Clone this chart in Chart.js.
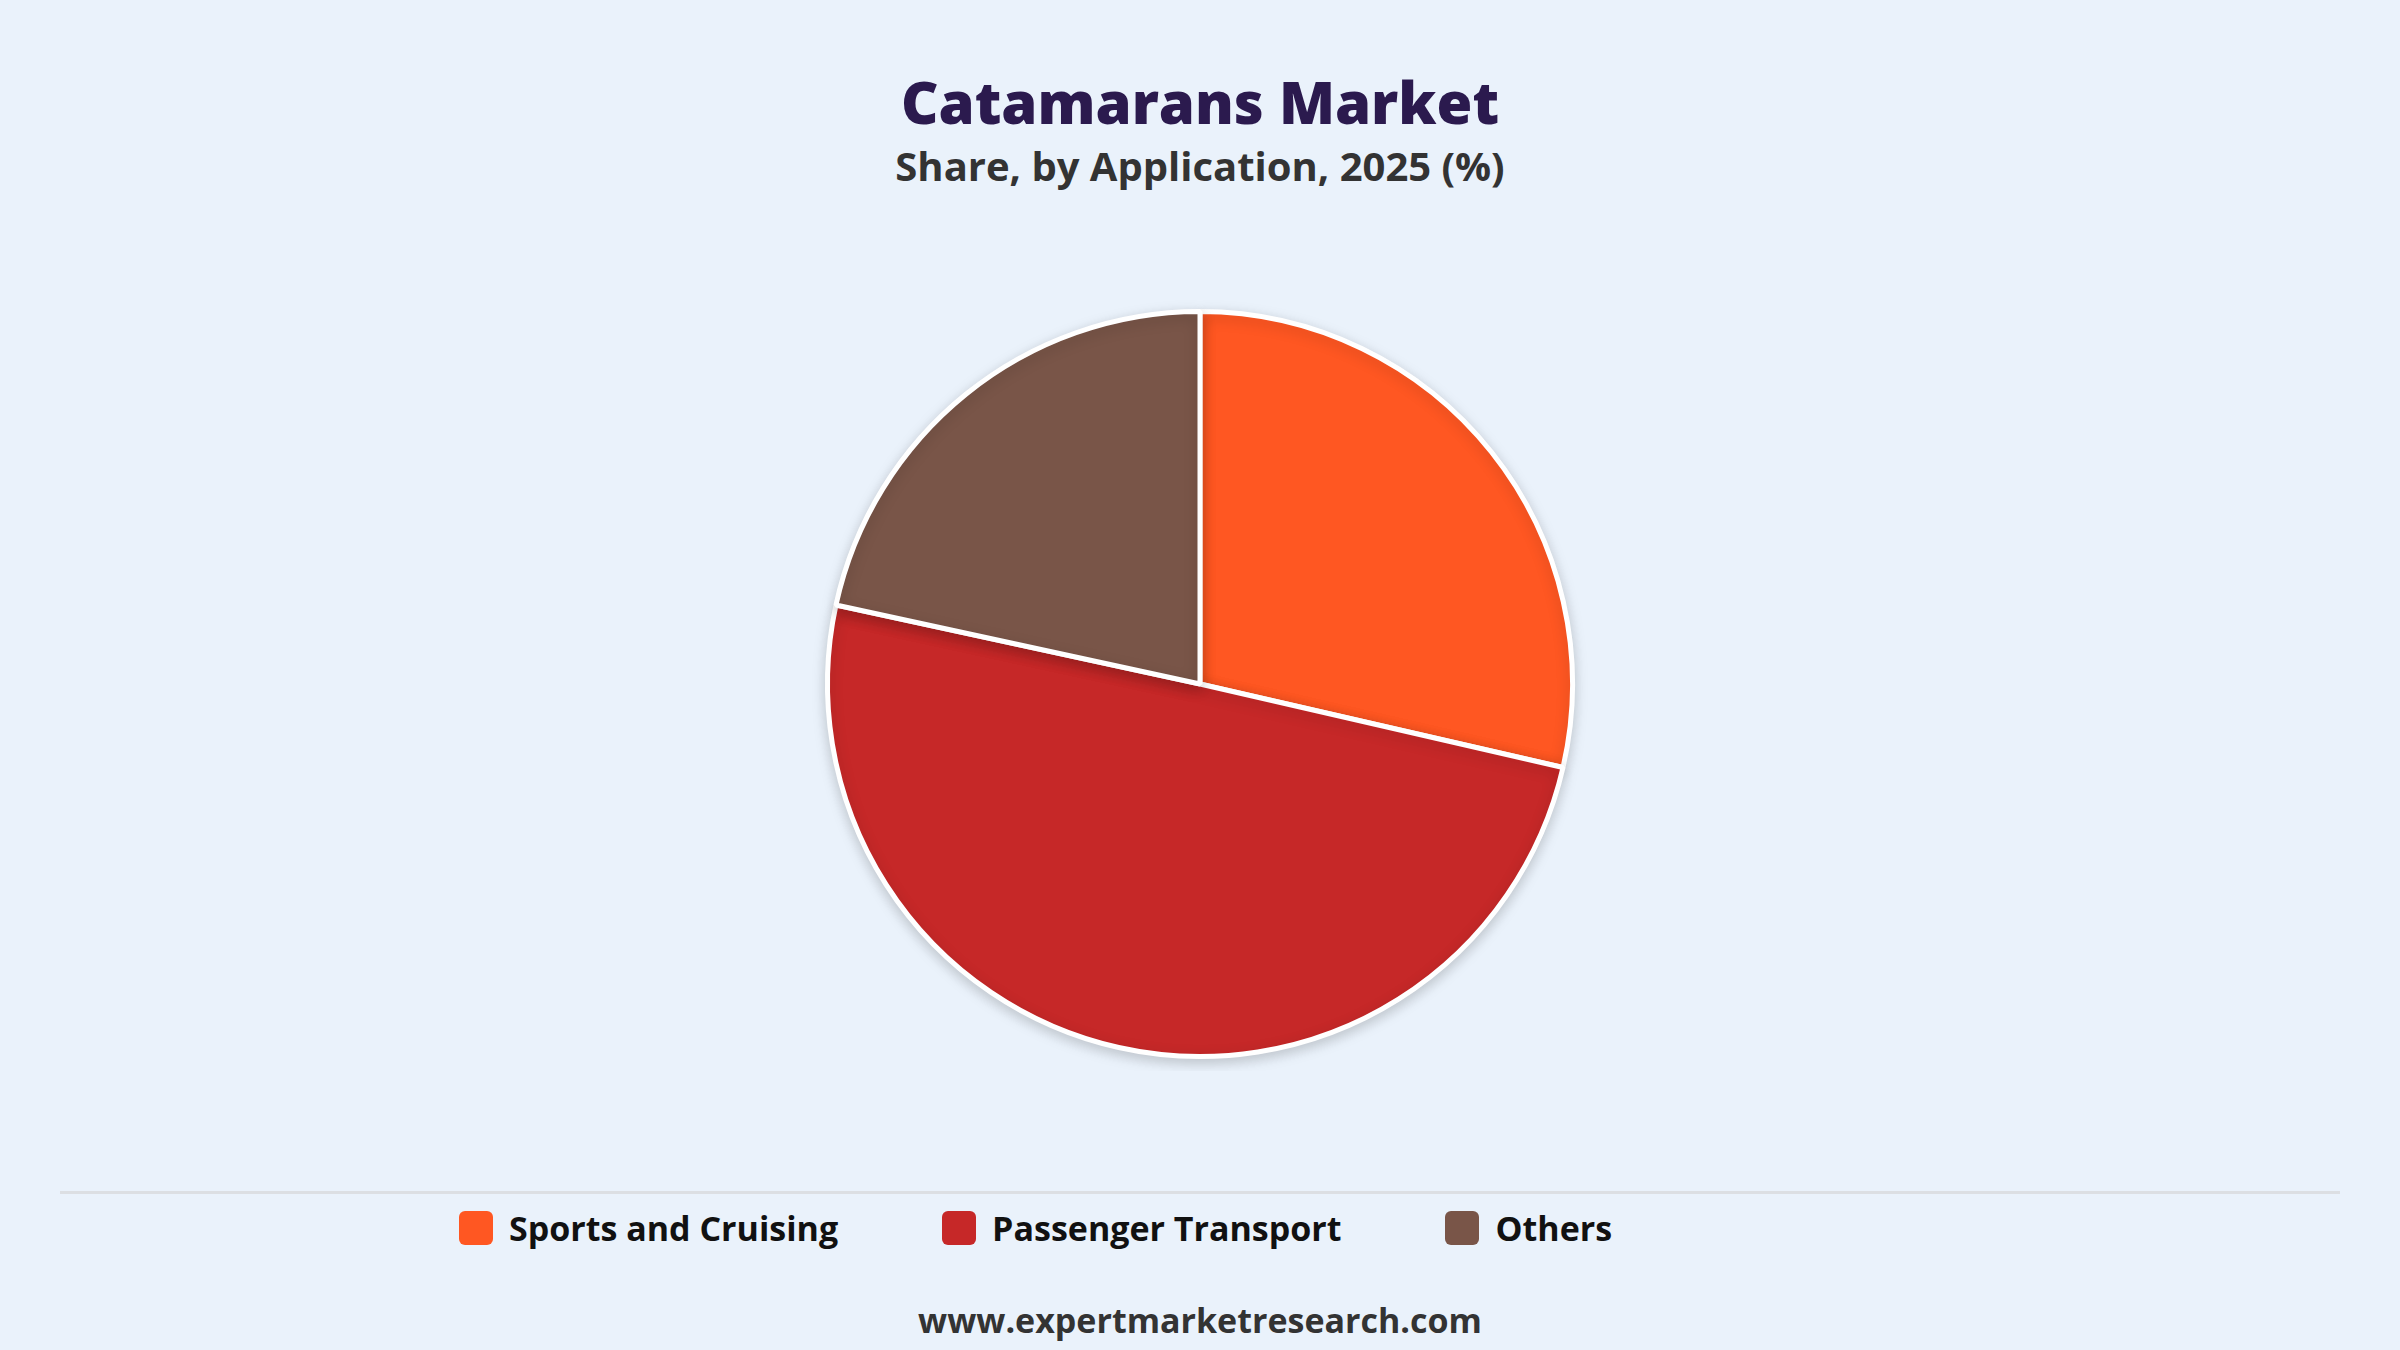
<!DOCTYPE html>
<html><head><meta charset="utf-8">
<script src="https://cdn.jsdelivr.net/npm/chart.js@4"></script>
<style>
html,body{margin:0;padding:0;width:2400px;height:1350px;background:#EAF2FB;font-family:"Open Sans","Noto Sans",sans-serif;overflow:hidden;position:relative}
#title{position:absolute;top:62px;width:100%;text-align:center;font-size:58px;font-weight:800;color:#2B1A4E}
#sub{position:absolute;top:138px;width:100%;text-align:center;font-size:40px;font-weight:700;color:#333}
#wrap{position:absolute;top:297px;left:0;width:2400px;height:774px}
#sep{position:absolute;top:1191px;left:60px;width:2280px;height:3px;background:#dcdfe3}
#legend{position:absolute;top:1205px;left:459px;display:flex;font-size:34px;font-weight:700;color:#111}
.it{display:flex;align-items:center;margin-right:104px}
.bx{width:34px;height:34px;border-radius:6px;margin-right:16px}
#foot{position:absolute;top:1297px;width:100%;text-align:center;font-size:34px;font-weight:700;color:#333}
</style></head><body>
<div id="title">Catamarans Market</div>
<div id="sub">Share, by Application, 2025 (%)</div>
<div id="wrap"><canvas id="c"></canvas></div>
<div id="sep"></div>
<div id="legend"></div>
<div id="foot">www.expertmarketresearch.com</div>
<script>
const categories=["Sports and Cruising","Passenger Transport","Others"];
const values=[28.6,49.8,21.6];
const colors=["#FF5722","#C62828","#795548"];
const lg=document.getElementById('legend');
categories.forEach((c,i)=>{lg.innerHTML+=`<div class="it"><div class="bx" style="background:${colors[i]}"></div>${c}</div>`;});
const shadow={id:'sh',beforeDatasetsDraw(ch){const x=ch.ctx;x.save();x.shadowColor='rgba(0,0,0,0.18)';x.shadowBlur=14;x.shadowOffsetY=4;},afterDatasetsDraw(ch){ch.ctx.restore();}};
new Chart(document.getElementById('c'),{type:'pie',
data:{labels:categories,datasets:[{data:values,backgroundColor:colors,borderColor:'#fff',borderWidth:5}]},
options:{responsive:true,maintainAspectRatio:false,animation:false,layout:{padding:12},
plugins:{legend:{display:false},tooltip:{enabled:false}}},plugins:[shadow]});
</script></body></html>
